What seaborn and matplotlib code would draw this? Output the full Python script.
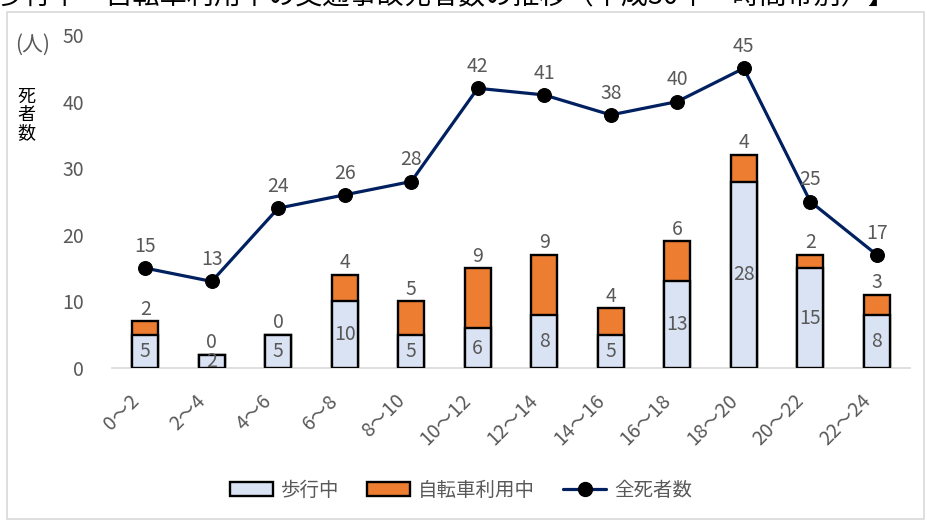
import matplotlib
matplotlib.use("Agg")
import matplotlib.pyplot as plt
import seaborn as sns
import pandas as pd
from matplotlib.patches import Patch, Rectangle
from matplotlib.lines import Line2D
import matplotlib.transforms as mtrans

categories = ["0～2", "2～4", "4～6", "6～8", "8～10", "10～12", "12～14",
              "14～16", "16～18", "18～20", "20～22", "22～24"]
walking = [5, 2, 5, 10, 5, 6, 8, 5, 13, 28, 15, 8]
cycling = [2, 0, 0, 4, 5, 9, 9, 4, 6, 4, 2, 3]
total_deaths = [15, 13, 24, 26, 28, 42, 41, 38, 40, 45, 25, 17]
yticks = [0, 10, 20, 30, 40, 50]
title_text = "歩行中・自転車利用中の交通事故死者数の推移（平成30年・時間帯別）】"

sns.set_theme(style="white")
plt.rcParams['font.family'] = ['Noto Sans CJK JP', 'DejaVu Sans']

GRAY = "#595959"
BLUE = "#dae3f3"
ORANGE = "#ed7d31"
NAVY = "#002060"

df = pd.DataFrame({
    "cat": categories,
    "walk": walking,
    "bike": cycling,
    "stack": [w + b for w, b in zip(walking, cycling)],
    "total": total_deaths,
    "pos": list(range(len(categories))),
})

fig = plt.figure(figsize=(9.28, 5.21), dpi=100)
W, H = 928, 521
ax = fig.add_axes([112 / W, 1 - 368 / H, (910 - 112) / W, (368 - 35) / H])

# frame around chart area
fig.patches.append(Rectangle((7 / W, 2 / H), (924 - 7) / W, (509 - 2) / H,
                             transform=fig.transFigure, fill=False,
                             edgecolor="#d9d9d9", linewidth=1.2, zorder=0))

sns.barplot(data=df, x="cat", y="stack", color=ORANGE, saturation=1,
            width=0.39, edgecolor="black", linewidth=1.7, ax=ax, zorder=2)
sns.barplot(data=df, x="cat", y="walk", color=BLUE, saturation=1,
            width=0.39, edgecolor="black", linewidth=1.7, ax=ax, zorder=3)
sns.lineplot(data=df, x="pos", y="total", color=NAVY, linewidth=2.3,
             marker="o", markersize=10, markerfacecolor="black",
             markeredgecolor="black", ax=ax, zorder=4)

fs = 14
for i, (w, b, s, t) in enumerate(zip(walking, cycling, df["stack"], total_deaths)):
    ax.text(i, w / 2, str(w), ha="center", va="center", color=GRAY, fontsize=fs, zorder=5)
    ax.annotate(str(b), (i, s), xytext=(0, 1), textcoords="offset points",
                ha="center", va="bottom", color=GRAY, fontsize=fs, zorder=5)
    ax.annotate(str(t), (i, t), xytext=(0, 8), textcoords="offset points",
                ha="center", va="bottom", color=GRAY, fontsize=fs, zorder=5)

ax.set_xlim(-0.5, len(categories) - 0.5)
ax.set_ylim(0, 50)
ax.set_yticks(yticks)
ax.set_yticklabels([str(v) for v in yticks], color=GRAY, fontsize=fs)
ax.tick_params(axis="y", length=0, pad=20)
ax.set_xticks(range(len(categories)))
ax.set_xticklabels(categories, rotation=45, ha="right", color=GRAY, fontsize=fs)
ax.tick_params(axis="x", length=0, pad=16)
for lab in ax.get_xticklabels():
    lab.set_transform(lab.get_transform() + mtrans.ScaledTranslation(-2 / 100, 0, fig.dpi_scale_trans))
# boundary tick marks
ax.set_xticks([i - 0.5 for i in range(len(categories) + 1)], minor=True)
ax.tick_params(axis="x", which="minor", length=7, width=1.2, color="#d9d9d9", direction="out")
ax.set_xlabel("")
ax.set_ylabel("")
for sp in ["top", "right", "left"]:
    ax.spines[sp].set_visible(False)
ax.spines["bottom"].set_color("#d9d9d9")
ax.spines["bottom"].set_linewidth(1.2)

# y-axis unit and label
fig.text(15 / W, 1 - 45 / H, "(人)", color=GRAY, fontsize=15, ha="left", va="center")
fig.text(26 / W, 1 - 115 / H, "死\n者\n数", color="black", fontsize=13,
         ha="center", va="center", linespacing=1.0)

# clipped title at top (cut off in the reference too)
fig.text(-3 / W, 1 - 3 / H, title_text, color="black", fontsize=19.5,
         ha="left", va="baseline")

handles = [
    Patch(facecolor=BLUE, edgecolor="black", linewidth=1.7, label="歩行中"),
    Patch(facecolor=ORANGE, edgecolor="black", linewidth=1.7, label="自転車利用中"),
    Line2D([0], [0], color=NAVY, linewidth=2.3, marker="o", markersize=10,
           markerfacecolor="black", markeredgecolor="black", label="全死者数"),
]
leg = fig.legend(handles=handles, loc="center", bbox_to_anchor=(461 / W, 1 - 490 / H),
                 ncol=3, frameon=False, fontsize=14, handlelength=2.2,
                 handleheight=0.7, columnspacing=1.45, handletextpad=0.4)
for t in leg.get_texts():
    t.set_color(GRAY)

fig.savefig("out.png", dpi=100)
